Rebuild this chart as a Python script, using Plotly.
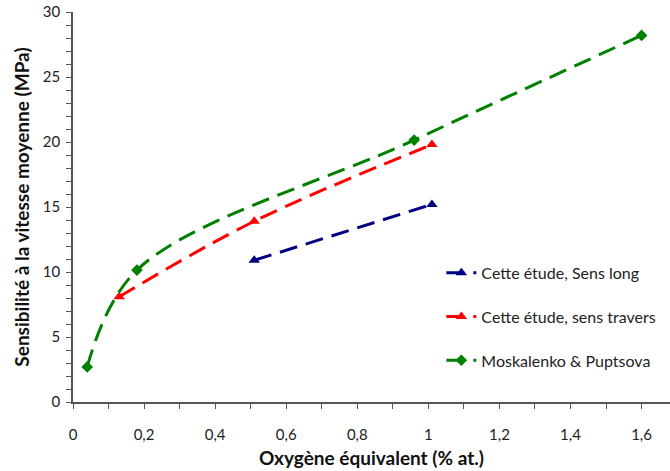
import plotly.graph_objects as go

long_x = [0.51, 1.01]
long_y = [10.9, 15.2]
trav_x = [0.13, 0.51, 1.01]
trav_y = [8.1, 13.9, 19.8]
mosk_x = [0.04, 0.18, 0.96, 1.6]
mosk_y = [2.7, 10.15, 20.15, 28.2]

names = ["Cette étude, Sens long", "Cette étude, sens travers", "Moskalenko & Puptsova"]
colors = ["#000080", "#FF0000", "#008000"]
symbols = ["triangle-up", "triangle-up", "diamond"]
x_tickvals = [0, 0.2, 0.4, 0.6, 0.8, 1.0, 1.2, 1.4, 1.6]
x_ticktext = ["0", "0,2", "0,4", "0,6", "0,8", "1", "1,2", "1,4", "1,6"]

fig = go.Figure()
for i, (xs, ys) in enumerate([(long_x, long_y), (trav_x, trav_y), (mosk_x, mosk_y)]):
    fig.add_trace(go.Scatter(
        x=xs, y=ys, name=names[i], mode="lines+markers",
        line=dict(color=colors[i], width=3, dash="18px,9px", shape="spline", smoothing=1),
        marker=dict(symbol=symbols[i], size=10 if symbols[i] != "diamond" else 9, color=colors[i]),
        legendgroup=str(i),
    ))

font = "Lato, 'Open Sans', sans-serif"
fig.update_layout(
    width=670, height=471,
    margin=dict(l=73, r=0, t=12, b=69),
    plot_bgcolor="white", paper_bgcolor="white",
    font=dict(family=font, size=15, color="#222"),
    showlegend=True,
    legend=dict(x=0.617, y=0.375, xanchor="left", yanchor="top",
                font=dict(size=16, color="#222"), tracegroupgap=20,
                bgcolor="rgba(0,0,0,0)"),
    xaxis=dict(range=[0, 1.68], showgrid=False, zeroline=False, automargin=False,
               showline=True, linecolor="#555", linewidth=1.5,
               ticks="outside", ticklen=5, tickcolor="#555",
               minor=dict(dtick=0.1, tick0=0, ticks="outside", ticklen=5, tickcolor="#555"),
               tickvals=x_tickvals, ticktext=x_ticktext, ticklabelstandoff=13,
               title=dict(text="<b>Oxygène équivalent (% at.)</b>", font=dict(size=19, color="#111"), standoff=10)),
    yaxis=dict(range=[0, 30], tick0=0, dtick=5, showgrid=False, zeroline=False, automargin=False,
               showline=True, linecolor="#555", linewidth=1.5,
               ticks="outside", ticklen=5, tickcolor="#555",
               minor=dict(dtick=1, ticks="outside", ticklen=5, tickcolor="#555"),
               ticklabelstandoff=3,
               title=dict(text="<b>Sensibilité à la vitesse moyenne (MPa)</b>", font=dict(size=19, color="#111"), standoff=8)),
)
fig.write_html("out.html", config={"displayModeBar": False},
               post_script="document.body.style.margin='0';document.body.style.overflow='hidden';")
